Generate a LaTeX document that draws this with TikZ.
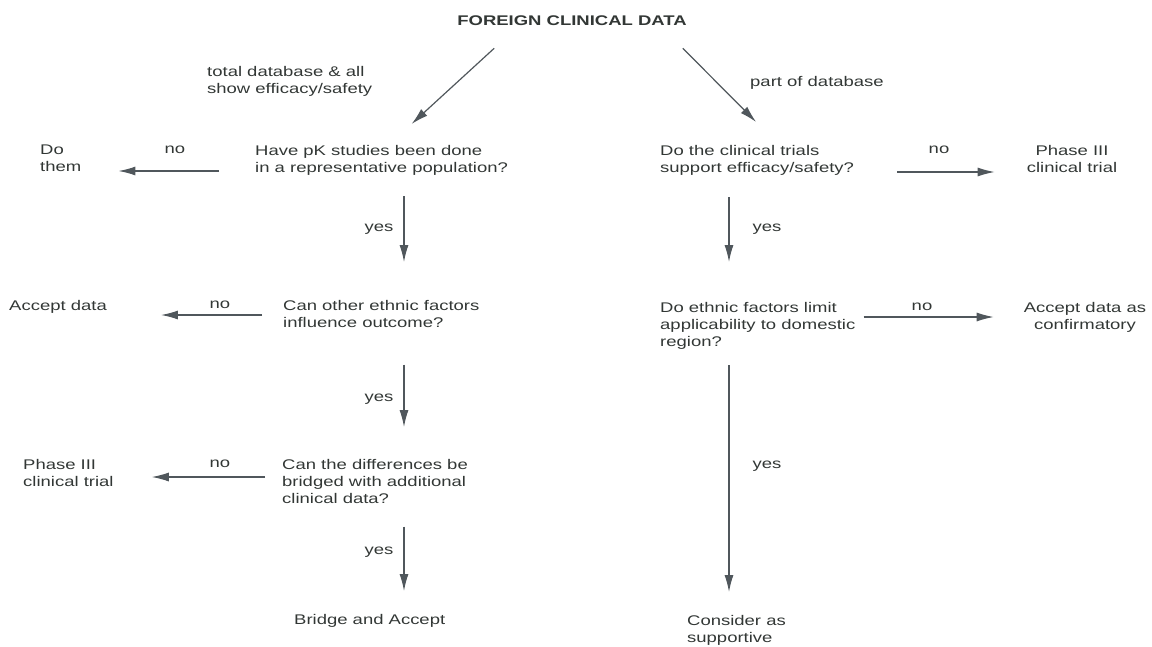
\documentclass[tikz,border=0pt]{standalone}
\usepackage{fontspec}
\setmainfont[FakeStretch=1.32]{Liberation Sans}
\usetikzlibrary{arrows.meta}
\definecolor{inkcolor}{RGB}{50,55,53}
\definecolor{arrowcolor}{RGB}{80,87,92}
\tikzset{
  txt/.style={font=\fontsize{14}{17}\selectfont, text=inkcolor, inner sep=0pt, align=left, anchor=north west},
  txtc/.style={txt, align=center, anchor=north},
  lbl/.style={font=\fontsize{14}{17}\selectfont, text=inkcolor, inner sep=0pt},
  arr/.style={draw=arrowcolor, line width=1.2pt, -{Latex[length=17pt,width=9pt]}},
}

\begin{document}
\begin{tikzpicture}[x=1pt, y=-1pt]
    \useasboundingbox (0,0) rectangle (1152,646);
    % Title and first split
    \node[txt, anchor=north, font=\fontsize{14}{17}\selectfont\bfseries] (data) at (572,16) {FOREIGN CLINICAL DATA};
    \node[txt] (total) at (207,66) {total database \& all\\show efficacy/safety};
    \node[txt] (part) at (750,76) {part of database};
    % Left column
    \node[txt] (pk) at (255,145) {Have pK studies been done\\in a representative population?};
    \node[txt] (dothem) at (40,145) {Do\\them};
    \node[txt] (other) at (283,300) {Can other ethnic factors\\influence outcome?};
    \node[txt] (accept) at (9,300) {Accept data};
    \node[txt] (bridged) at (282,459) {Can the differences be\\bridged with additional\\clinical data?};
    \node[txt] (phaseL) at (23,459) {Phase III\\clinical trial};
    \node[txt] (bridge) at (294,614) {Bridge and Accept};
    % Right column
    \node[txt] (trials) at (660,145) {Do the clinical trials\\support efficacy/safety?};
    \node[txtc] (phaseR) at (1072,145) {Phase III\\clinical trial};
    \node[txt] (limit) at (660,302) {Do ethnic factors limit\\applicability to domestic\\region?};
    \node[txtc] (confirm) at (1085,302) {Accept data as\\confirmatory};
    \node[txt] (consider) at (687,615) {Consider as\\supportive};
    % Answer labels
    \node[lbl] (no1) at (175,150) {no};
    \node[lbl] (no2) at (220,305) {no};
    \node[lbl] (no3) at (220,464) {no};
    \node[lbl] (no4) at (939,150) {no};
    \node[lbl] (no5) at (922,307) {no};
    \node[lbl] (yes1) at (379,229) {yes};
    \node[lbl] (yes2) at (379,399) {yes};
    \node[lbl] (yes3) at (379,552) {yes};
    \node[lbl] (yes4) at (767,229) {yes};
    \node[lbl] (yes5) at (767,466) {yes};
    % Arrows
    \draw[arr] ([xshift=37pt,yshift=-22pt]data.south west) -- ([xshift=30pt,yshift=21pt]pk.north);
    \draw[arr] ([xshift=-4pt,yshift=-22pt]data.south east) -- ([xshift=-1pt,yshift=23pt]trials.north);
    \draw[arr, shorten <=36pt, shorten >=37pt] (pk.west |- 0,171) -- (dothem.east |- 0,171);
    \draw[arr, shorten <=21pt, shorten >=54pt] (other.west |- 0,315) -- (accept.east |- 0,315);
    \draw[arr, shorten <=17pt, shorten >=38pt] (bridged.west |- 0,477) -- (phaseL.east |- 0,477);
    \draw[arr, shorten <=43pt, shorten >=32pt] (trials.east |- 0,172) -- (phaseR.west |- 0,172);
    \draw[arr, shorten <=8pt, shorten >=30pt] (limit.east |- 0,317) -- (confirm.west |- 0,317);
    \draw[arr, shorten <=21pt, shorten >=38pt] (pk.south -| 404,0) -- (other.north -| 404,0);
    \draw[arr, shorten <=37pt, shorten >=32pt] (other.south -| 404,0) -- (bridged.north -| 404,0);
    \draw[arr, shorten <=23pt, shorten >=23pt] (bridged.south -| 404,0) -- (bridge.north -| 404,0);
    \draw[arr, shorten <=22pt, shorten >=40pt] (trials.south -| 729,0) -- (limit.north -| 729,0);
    \draw[arr, shorten <=16pt, shorten >=23pt] (limit.south -| 729,0) -- (consider.north -| 729,0);
\end{tikzpicture}
\end{document}
